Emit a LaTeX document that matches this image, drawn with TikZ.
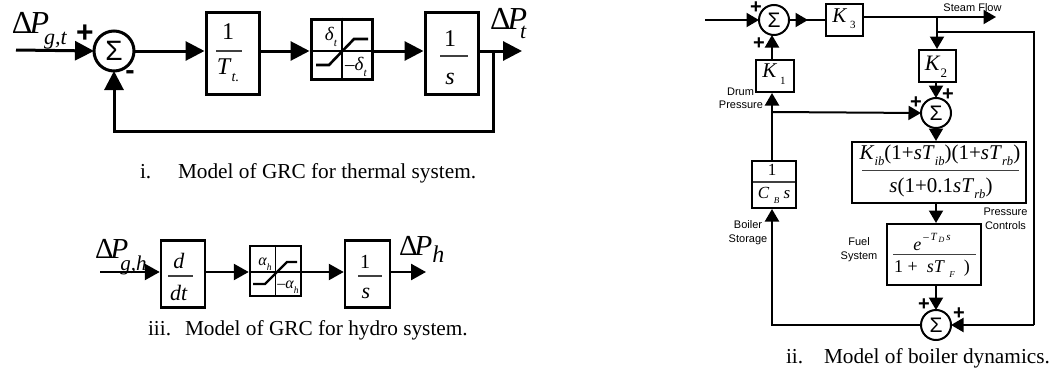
\documentclass[tikz,border=0pt]{standalone}
\usepackage{fontspec}
\setmainfont{Liberation Serif}
\setsansfont{Liberation Sans}
\usetikzlibrary{arrows.meta,calc}
\newcommand{\fs}[1]{\fontsize{#1}{#1}\selectfont}
\newcommand{\sbs}[2]{\textit{#1}\raisebox{-0.28em}{\fontsize{0.6em}{0.6em}\selectfont\textit{#2}}}
\tikzset{
 lab/.style={inner sep=0,outer sep=0},
 capt/.style={lab,anchor=base west,font=\fs{21.3}},
 smalltxt/.style={lab,font=\sffamily\fs{11}},
 plusm/.style={lab,font=\sffamily\bfseries\fs{#1}},
 sumn/.style={circle,draw,line width=#1,fill=white,inner sep=0,outer sep=0},
 ablk/.style={draw,line width=3pt,inner sep=0,fill=white},
 bblk/.style={draw,line width=2.5pt,inner sep=0,fill=white},
 cblk/.style={draw,line width=2pt,inner sep=0,fill=white},
 aw/.style={line width=3pt,-{Triangle[length=19pt,width=19pt]}},
 bw/.style={line width=2.5pt,-{Triangle[length=15pt,width=16pt]}},
 cw/.style={line width=2pt,-{Triangle[length=12.5pt,width=14pt]}},
 wc/.style={line width=2pt},
 fbar/.style={line width=1.1pt,black!75},
}
\begin{document}
\begin{tikzpicture}[x=1pt,y=-1pt,line join=miter]
\useasboundingbox (0,0) rectangle (1061,372);
% ---------- panel i
\coordinate (in1) at (16,50);
\node[sumn=3pt,minimum size=40pt] (s1) at (114,51) {};
\node[lab,font=\sffamily\fs{28}] (s1t) at (114,51) {Σ};
\node[ablk,minimum width=53pt,minimum height=82pt] (b1) at (232.5,53) {};
\node[ablk,minimum width=61pt,minimum height=60pt] (sat1) at (341.5,49) {};
\node[ablk,minimum width=53pt,minimum height=82pt] (b2) at (451.5,53) {};
\coordinate (o1) at (522,51);
\coordinate (j1) at (493,51);
\coordinate (c1) at (493,131);
\coordinate (c2) at (114,131);
\draw[aw] (in1) -- (s1.west);
\draw[aw] (s1.east) -- (b1.west |- s1.east);
\draw[aw] (b1.east |- s1.east) -- (sat1.west |- s1.east);
\draw[aw] (sat1.east |- s1.east) -- (b2.west |- s1.east);
\draw[aw] (b2.east |- s1.east) -- (o1);
\draw[aw] (j1) -- (c1) -- (c2) -- (s1.south);
\draw[fbar] (216,51) -- (242,51);
\node[lab,font=\fs{24}] (n1) at (228,32) {1};
\node[lab,font=\fs{24}] (d1) at (228,70) {\sbs{T}{t.}};
\draw[fbar] (440,56) -- (468,56);
\node[lab,font=\fs{24}] (n2) at (450,39) {1};
\node[lab,font=\fs{24}] (d2) at (450,79) {\textit{s}};
% saturation 1
\draw[line width=2pt] (sat1.north) -- (sat1.south);
\draw[line width=2pt] (sat1.west |- 0,51) -- (sat1.east |- 0,51);
\draw[line width=2.6pt] (316,65) -- (329,65) -- (354,39) -- (368,39);
\node[lab,font=\fs{19}] (sd1) at (331,37) {\sbs{δ}{t}};
\node[lab,font=\fs{19}] (sd2) at (356,67) {--\sbs{δ}{t}};
\node[lab,anchor=base west,font=\fs{32}] (pgt) at (12,33) {Δ\kern-3pt\textit{P}\kern-5pt\raisebox{-12pt}{\fs{22}\textit{g,t}}};
\node[plusm=30] (p1) at (85,34) {+};
\node[plusm=28] (m1) at (130,75) {-};
\node[lab,anchor=base west,font=\fs{32}] (pt) at (490,30) {Δ\kern-3pt\textit{P}\kern-7pt\raisebox{-9pt}{\fs{22}\textit{t}}};
\node[capt] (c1a) at (140,178) {i.};
\node[capt] (c1b) at (178,178) {Model of GRC for thermal system.};
% ---------- panel iii
\coordinate (in3) at (100,272);
\node[bblk,minimum width=44pt,minimum height=67pt] (b3) at (183,274) {};
\node[bblk,minimum width=51pt,minimum height=50pt] (sat3) at (275.5,271) {};
\node[bblk,minimum width=45pt,minimum height=67pt] (b4) at (367.5,274) {};
\coordinate (o3) at (426,272);
\draw[bw] (in3) -- (b3.west |- in3);
\draw[bw] (b3.east |- in3) -- (sat3.west |- in3);
\draw[bw] (sat3.east |- in3) -- (b4.west |- in3);
\draw[bw] (b4.east |- in3) -- (o3);
\draw[fbar] (168,276) -- (193,276);
\node[lab,font=\fs{22}] (n3) at (179,261) {\textit{d}};
\node[lab,font=\fs{22}] (d3) at (179,293) {\textit{dt}};
\draw[fbar] (358,276) -- (382,276);
\node[lab,font=\fs{20}] (n4) at (365,262) {1};
\node[lab,font=\fs{22}] (d4) at (366,293) {\textit{s}};
\draw[line width=1.8pt] (sat3.north) -- (sat3.south);
\draw[line width=1.8pt] (sat3.west |- in3) -- (sat3.east |- in3);
\draw[line width=2.2pt] (253,284) -- (265,284) -- (287,262) -- (297,262);
\node[lab,font=\fs{16}] (sa1) at (265,264) {\sbs{α}{h}};
\node[lab,font=\fs{16}] (sa2) at (288,287) {--\sbs{α}{h}};
\node[lab,anchor=base west,font=\fs{29}] (pgh) at (95,258) {Δ\kern-3pt\textit{P}\kern-8pt\raisebox{-12pt}{\fs{21}\textit{g,h}}};
\node[lab,anchor=base west,font=\fs{29}] (ph) at (399,255) {Δ\kern-3pt\textit{P}\raisebox{-7pt}{\fs{24}\textit{h}}};
\node[capt] (c3a) at (148,335) {iii.};
\node[capt] (c3b) at (185,335) {Model of GRC for hydro system.};
% ---------- panel ii
\coordinate (in2) at (705,20);
\node[sumn=2pt,minimum size=30pt] (s2) at (774,20) {};
\node[lab,font=\sffamily\fs{21}] (s2t) at (774,20) {Σ};
\node[cblk,minimum width=37pt,minimum height=32pt] (k3) at (844.5,20) {};
\node[cblk,minimum width=38pt,minimum height=32pt] (k1) at (775,76) {};
\node[cblk,minimum width=37pt,minimum height=32pt] (k2) at (937.5,66) {};
\node[sumn=2pt,minimum size=30pt] (s3) at (936,113) {};
\node[lab,font=\sffamily\fs{21}] (s3t) at (936,113) {Σ};
\node[cblk,minimum width=174pt,minimum height=61pt] (bg) at (939,172.5) {};
\node[cblk,minimum width=94pt,minimum height=61pt] (fu) at (934,254.5) {};
\node[sumn=2pt,minimum size=30pt] (s4) at (936,325) {};
\node[lab,font=\sffamily\fs{21}] (s4t) at (936,325) {Σ};
\node[cblk,minimum width=44pt,minimum height=47pt] (cb) at (774,184.5) {};
\coordinate (e1) at (996,17);
\coordinate (j2) at (937,17);
\coordinate (j3) at (937,32);
\coordinate (t1) at (1034,32);
\coordinate (t2) at (1034,325);
\coordinate (l1) at (772,325);
\coordinate (j4) at (772,112);
\draw[wc] (s2.east) -- (k3.west);
\draw[cw] (s2.east) -- (808,20);
\draw[cw] (in2) -- (s2.west);
\draw[cw] (k3.east |- e1) -- (e1);
\draw[cw] (j2) -- (k2.north -| j2);
\draw[wc] (j3) -- (t1) -- (t2);
\draw[cw] (t2) -- (s4.east);
\draw[cw] (k2.south -| s3) -- (s3.north);
\draw[cw] (s3.south) -- (bg.north -| s3);
\draw[cw] (bg.south -| s3) -- (fu.north -| s3);
\draw[cw] (fu.south -| s4) -- (s4.north);
\draw[cw] (s4.west) -- (l1) -- (cb.south -| l1);
\draw[cw] (cb.north -| l1) -- (k1.south -| l1);
\draw[cw] (k1.north -| l1) -- (s2.south -| l1);
\draw[cw] (j4) -- (s3.west);
\node[lab,font=\fs{21}] (k3t) at (844,19) {\textit{K}\raisebox{-0.3em}{\fs{11}\ 3}};
\node[lab,font=\fs{21}] (k1t) at (774,74) {\textit{K}\raisebox{-0.3em}{\fs{11}\ 1}};
\node[lab,font=\fs{22}] (k2t) at (936,67) {\textit{K}\raisebox{-0.3em}{\fs{13}2}};
\node[lab,font=\fs{21}] (numb) at (940,155) {\sbs{K}{ib}(1+\textit{s}\sbs{T}{ib})(1+\textit{s}\sbs{T}{rb})};
\draw[fbar] (862,170.5) -- (1019,170.5);
\node[lab,font=\fs{21}] (denb) at (941,188) {\textit{s}(1+0.1\textit{s}\sbs{T}{rb})};
\node[lab,font=\fs{18}] (num2) at (932,242) {\textit{e}\raisebox{0.55em}{\fs{11}\,--\,\textit{T}\raisebox{-0.2em}{\fs{8}\,\textit{D}}\,\textit{s}}};
\draw[fbar] (893,254.5) -- (976,254.5);
\node[lab,font=\fs{18}] (den2) at (932,269) {1 + \ \textit{sT}\raisebox{-0.3em}{\fs{9}\ \ \textit{F}}\ \ )};
\node[lab,font=\fs{17}] (n5) at (772,170) {1};
\draw[fbar] (753,182) -- (795,182);
\node[lab,font=\fs{17}] (d5) at (774,195) {\textit{C}\raisebox{-0.3em}{\fs{9}\ \ \textit{B}}\ \textit{s}};
\node[smalltxt,anchor=base] (l-st) at (972.5,11) {Steam Flow};
\node[smalltxt,anchor=base east] (l-d1) at (754,95) {Drum};
\node[smalltxt,anchor=base east] (l-d2) at (763,108) {Pressure};
\node[smalltxt,anchor=base] (l-b1) at (748,228) {Boiler};
\node[smalltxt,anchor=base] (l-b2) at (748,242) {Storage};
\node[smalltxt,anchor=base] (l-f1) at (859,245) {Fuel};
\node[smalltxt,anchor=base] (l-f2) at (859,259) {System};
\node[smalltxt,anchor=base] (l-p1) at (1005.5,215) {Pressure};
\node[smalltxt,anchor=base] (l-p2) at (1005.5,229) {Controls};
\node[plusm=20] (pa) at (756,8) {+};
\node[plusm=20] (pb) at (759,44) {+};
\node[plusm=20] (pc) at (948,95) {+};
\node[plusm=20] (pd) at (916,103) {+};
\node[plusm=20] (pe) at (924,305) {+};
\node[plusm=20] (pf) at (959,314) {+};
\node[capt] (c2a) at (786,363) {ii.};
\node[capt] (c2b) at (824,363) {Model of boiler dynamics.};
\end{tikzpicture}
\end{document}
